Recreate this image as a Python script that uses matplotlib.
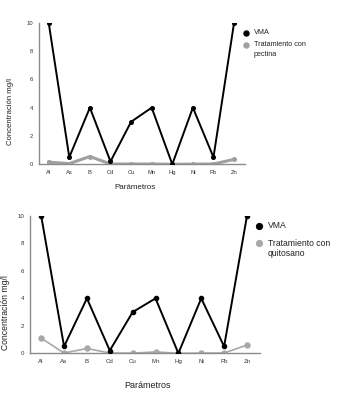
import matplotlib
matplotlib.use("Agg")
import matplotlib.pyplot as plt
from matplotlib.lines import Line2D

params = ["Al", "As", "B", "Cd", "Cu", "Mn", "Hg", "Ni", "Pb", "Zn"]
vma = [10, 0.5, 4, 0.2, 3, 4, 0.001, 4, 0.5, 10]
pectina = [0.15, 0.05, 0.55, 0.02, 0.02, 0.02, 0.0, 0.01, 0.02, 0.35]
quitosano = [1.1, 0.02, 0.35, 0.02, 0.01, 0.1, 0.0, 0.01, 0.02, 0.6]
yticks = [0, 2, 4, 6, 8, 10]

W, H = 345, 404
fig = plt.figure(figsize=(W / 100, H / 100), dpi=100)
plt.rcParams['font.family'] = ['Liberation Sans', 'DejaVu Sans']

def px_axes(l, t, r, b):
    return fig.add_axes([l / W, (H - b) / H, (r - l) / W, (b - t) / H])

def style(ax, xlim, tick_fs):
    ax.set_xlim(*xlim)
    ax.set_ylim(0, 10)
    ax.set_yticks(yticks)
    ax.set_xticks(range(len(params)))
    ax.set_xticklabels(params)
    for s in ["top", "right"]:
        ax.spines[s].set_visible(False)
    for s in ["left", "bottom"]:
        ax.spines[s].set_color("#8c8c8c")
        ax.spines[s].set_linewidth(1.0)
    ax.tick_params(length=0, labelsize=tick_fs, colors="#333333", pad=4)

def legend_dot(x, y, color, ms):
    fig.add_artist(Line2D([x / W], [1 - y / H], transform=fig.transFigure,
                          marker="o", ms=ms, color=color, lw=0))

# Top chart
ax1 = px_axes(39, 22.7, 245, 164.3)
ax1.plot(range(len(params)), vma, color="black", lw=1.4, marker="o", ms=2.6, zorder=3)
ax1.plot(range(len(params)), pectina, color="#a0a0a0", lw=2.2, marker="o", ms=2.6, zorder=2)
style(ax1, (-0.47, 9.53), 4.2)
ax1.set_ylabel("Concentración mg/l", fontsize=5.6, color="#222222")
ax1.yaxis.set_label_coords(-0.12, 0.37)
ax1.set_xlabel("Parámetros", fontsize=5.8, color="#222222")
ax1.xaxis.set_label_coords(0.466, -0.14)
legend_dot(245.7, 32.7, "black", 3.6)
fig.text(254 / W, 1 - 32.7 / H, "VMA", fontsize=5.2, color="#222222", ha="left", va="center")
legend_dot(245.7, 45, "#a0a0a0", 3.6)
fig.text(254 / W, 1 - 45 / H, "Tratamiento con", fontsize=5.2, color="#222222", ha="left", va="center")
fig.text(254 / W, 1 - 54 / H, "pectina", fontsize=5.2, color="#222222", ha="left", va="center")

# Bottom chart
ax2 = px_axes(30, 216, 260, 353.3)
ax2.plot(range(len(params)), vma, color="black", lw=1.4, marker="o", ms=3, zorder=3)
ax2.plot(range(len(params)), quitosano, color="#a8a8a8", lw=1.2, marker="o", ms=3.6, zorder=2)
style(ax2, (-0.49, 9.57), 4.4)
ax2.set_ylabel("Concentración mg/l", fontsize=6.2, color="#222222")
ax2.yaxis.set_label_coords(-0.085, 0.3)
ax2.set_xlabel("Parámetros", fontsize=6.5, color="#222222")
ax2.xaxis.set_label_coords(0.513, -0.2)
legend_dot(259, 225.7, "black", 4.2)
fig.text(268 / W, 1 - 225.7 / H, "VMA", fontsize=6.2, color="#222222", ha="left", va="center")
legend_dot(259, 243, "#a8a8a8", 4.2)
fig.text(268 / W, 1 - 243 / H, "Tratamiento con", fontsize=6.2, color="#222222", ha="left", va="center")
fig.text(268 / W, 1 - 253.5 / H, "quitosano", fontsize=6.2, color="#222222", ha="left", va="center")

fig.savefig("out.png", dpi=100)
